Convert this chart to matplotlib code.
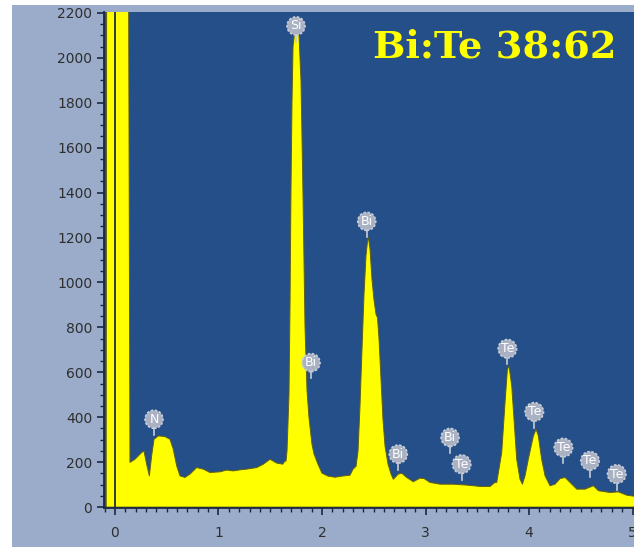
import matplotlib
matplotlib.use("Agg")
import matplotlib.pyplot as plt
from matplotlib.patches import Rectangle
from matplotlib.ticker import MultipleLocator

# spectrum (energy in keV, counts)
energy = [-0.085, -0.08, 0.13, 0.145, 0.193, 0.258, 0.28, 0.306, 0.332, 0.354,
          0.377, 0.419, 0.483, 0.531, 0.563, 0.596, 0.628, 0.676, 0.725, 0.789,
          0.853, 0.918, 1.014, 1.08, 1.143, 1.21, 1.272, 1.369, 1.433, 1.498,
          1.562, 1.62, 1.643, 1.652, 1.662, 1.681, 1.691, 1.70, 1.71, 1.72,
          1.739, 1.758, 1.778, 1.797, 1.816, 1.836, 1.855, 1.874, 1.903, 1.923,
          1.961, 2.0, 2.058, 2.126, 2.193, 2.27, 2.3, 2.329, 2.348, 2.367,
          2.386, 2.406, 2.425, 2.44, 2.449, 2.464, 2.483, 2.502, 2.522, 2.536,
          2.551, 2.57, 2.589, 2.609, 2.638, 2.667, 2.689, 2.737, 2.77, 2.818,
          2.882, 2.947, 2.986, 3.043, 3.14, 3.27, 3.398, 3.527, 3.623, 3.671,
          3.688, 3.736, 3.768, 3.791, 3.807, 3.833, 3.855, 3.881, 3.913, 3.936,
          3.961, 3.993, 4.042, 4.068, 4.09, 4.122, 4.155, 4.203, 4.251, 4.3,
          4.348, 4.396, 4.461, 4.541, 4.622, 4.67, 4.783, 4.863, 4.944, 5.02]
counts = [0, 2600, 2600, 199, 213, 243, 250, 191, 139, 228,
          302, 317, 314, 302, 258, 184, 139, 132, 147, 176,
          169, 154, 157, 165, 161, 166, 169, 176, 191, 213,
          196, 191, 206, 204, 250, 500, 900, 1400, 1800, 2050,
          2130, 2150, 2100, 1900, 1400, 800, 520, 400, 280, 236,
          191, 151, 138, 133, 138, 142, 169, 182, 250, 450,
          700, 950, 1120, 1185, 1200, 1147, 1013, 924, 858, 844,
          747, 569, 391, 271, 191, 147, 124, 147, 151, 132,
          113, 129, 127, 110, 102, 102, 98, 92, 92, 110,
          110, 243, 465, 613, 628, 539, 391, 213, 124, 102,
          139, 213, 317, 347, 317, 213, 139, 95, 102, 127,
          132, 110, 80, 80, 95, 73, 65, 68, 53, 48]

# element markers
peak_names = ["Si", "Bi", "Bi", "N", "Bi", "Bi", "Te", "Te", "Te", "Te", "Te", "Te"]
peak_x = [1.749, 2.432, 1.894, 0.377, 2.737, 3.237, 3.349, 3.791, 4.051, 4.332, 4.589, 4.847]
peak_y = [2142, 1272, 643, 391, 236, 310, 191, 705, 424, 265, 206, 147]

fig = plt.figure(figsize=(6.34, 5.47), dpi=100)
fig.patch.set_facecolor("white")
fig.patches.append(Rectangle((12 / 634, 0), 1, (547 - 5) / 547, transform=fig.transFigure,
                             facecolor="#9aacca", edgecolor="none", zorder=-5))

ax = fig.add_axes([104 / 634, 39 / 547, 530 / 634, 496 / 547])
ax.set_facecolor("#244f88")

ax.fill_between(energy, counts, 0, color="#ffff00", edgecolor="#5f5f18", linewidth=0.7, zorder=2)
ax.axvline(0, color="#1f2f45", linewidth=1.3, zorder=3)

for name, x, y in zip(peak_names, peak_x, peak_y):
    ax.plot([x, x], [y, y - 70], color="#c8ccd6", linewidth=1.2, zorder=4)
    ax.text(x, y, name, ha="center", va="center", fontsize=9, color="white", zorder=5,
            bbox=dict(boxstyle="circle,pad=0.2", fc="#a9b1c2", ec="#c9ced8", lw=1.2,
                      linestyle=(0, (1.5, 1))))

ax.text(0.738, 0.909, "Bi:Te 38:62", transform=ax.transAxes, ha="center", va="baseline",
        fontsize=27.5, fontweight="bold", family="DejaVu Serif", color="#ffff00", zorder=6)

ax.set_xlim(-0.106, 5.014)
ax.set_ylim(-4, 2204)
ax.xaxis.set_major_locator(MultipleLocator(1))
ax.xaxis.set_minor_locator(MultipleLocator(0.1))
ax.yaxis.set_major_locator(MultipleLocator(200))
ax.yaxis.set_minor_locator(MultipleLocator(50))

for side in ["top", "right"]:
    ax.spines[side].set_visible(False)
for side in ["left", "bottom"]:
    ax.spines[side].set_color("#1b2840")
    ax.spines[side].set_linewidth(1.3)

ax.tick_params(which="both", direction="out", color="#1b2840", labelcolor="#2e2e2e", labelsize=10)
ax.tick_params(which="major", length=5, width=1.2)
ax.tick_params(which="minor", length=3, width=1)
ax.tick_params(axis="x", pad=8)

fig.savefig("out.png", dpi=100)
